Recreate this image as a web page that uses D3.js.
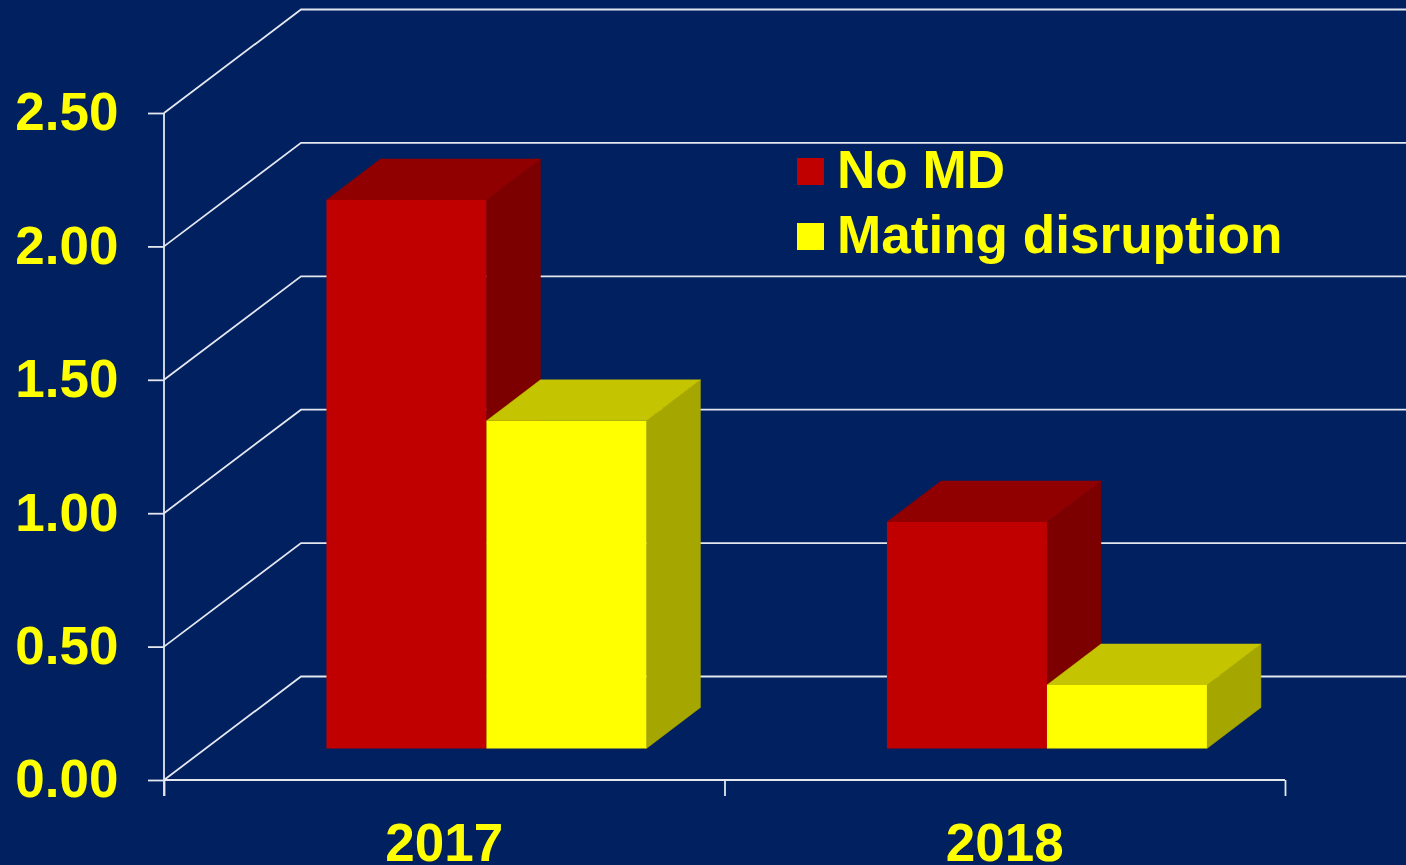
<!DOCTYPE html>
<html><head><meta charset="utf-8">
<script src="https://cdnjs.cloudflare.com/ajax/libs/d3/7.8.5/d3.min.js"></script>
<style>html,body{margin:0;padding:0;background:#002060;overflow:hidden}svg{display:block}</style>
</head><body><svg id="c" width="1406" height="865"></svg>
<script>
const categories = ["2017", "2018"];
const seriesNames = ["No MD", "Mating disruption"];
const noMD = [2.056, 0.849];
const matingDisruption = [1.228, 0.238];
const yTicks = [0, 0.5, 1, 1.5, 2, 2.5];
const seriesValues = [noMD, matingDisruption];
const frontColors = ["#c00000", "#ffff00"];
const topColors = ["#900000", "#c4c400"];
const sideColors = ["#7c0000", "#a6a600"];

const W = 1406, H = 865;
const svg = d3.select("#c");
svg.append("rect").attr("width", W).attr("height", H).attr("fill", "#002060");

const font = "'Liberation Sans', Arial, sans-serif", fs = 53, lineCol = "#e4e7ee", lw = 1.8;
const x = d3.scaleBand().domain(categories).range([164, 1285]).paddingInner(0).paddingOuter(0);
const y = d3.scaleLinear().domain([0, 2.5]).range([780, 113]);
const wallDX = 137, wallDY = -103.5;
const frontDX = 42.2, frontDY = -31.5;
const depthDX = 54, depthDY = -41;
const barW = 160;

const walls = svg.append("g").attr("fill", "none").attr("stroke", lineCol).attr("stroke-width", lw);
yTicks.forEach(t => {
  walls.append("path").attr("d", d3.line()([
    [x.range()[0], y(t)], [x.range()[0] + wallDX, y(t) + wallDY], [W, y(t) + wallDY]
  ]));
});

const yAxis = svg.append("g").attr("transform", `translate(${x.range()[0]},0)`)
  .call(d3.axisLeft(y).tickValues(yTicks).tickFormat(d3.format(".2f")).tickSize(16).tickPadding(29.5));
const xTickVals = [0, 1, 2].map(i => x.range()[0] + i * x.step());
const xScaleTicks = d3.scaleLinear().domain([164, 1285]).range([164, 1285]);
const xAxis = svg.append("g").attr("transform", `translate(0,${y(0)})`)
  .call(d3.axisBottom(xScaleTicks).tickValues(xTickVals).tickFormat("").tickSize(16).tickSizeOuter(0));
[yAxis, xAxis].forEach(a => {
  a.selectAll("path.domain").remove();
  a.selectAll("line").attr("stroke", lineCol).attr("stroke-width", lw);
});
svg.append("path").attr("d", d3.line()([[x.range()[0], y(2.5)], [x.range()[0], y(0) + 16]]))
  .attr("stroke", lineCol).attr("stroke-width", lw).attr("fill", "none");
svg.append("path").attr("d", d3.line()([[x.range()[0], y(0)], [x.range()[1], y(0)]]))
  .attr("stroke", lineCol).attr("stroke-width", lw).attr("fill", "none");
yAxis.selectAll("text").attr("fill", "#ffff00").attr("font-family", font).attr("font-weight", "bold")
  .attr("font-size", fs).attr("dy", "0.32em").attr("text-anchor", "end");

svg.append("g").selectAll("text").data(categories).join("text")
  .attr("x", d => x(d) + x.bandwidth() / 2).attr("y", 860.5)
  .attr("text-anchor", "middle").attr("fill", "#ffff00")
  .attr("font-family", font).attr("font-weight", "bold").attr("font-size", fs).text(d => d);

const base = y(0) + frontDY;
const scaleY = v => y(v) + frontDY;
categories.forEach((c, ci) => {
  const cx = x(c) + x.bandwidth() / 2 + frontDX;
  seriesValues.forEach((vals, si) => {
    const x0 = cx - barW + si * barW, x1 = x0 + barW, t = scaleY(vals[ci]);
    const g = svg.append("g");
    g.append("path").attr("fill", sideColors[si]).attr("stroke", sideColors[si]).attr("stroke-width", 0.5)
      .attr("d", d3.line()([[x1, t], [x1 + depthDX, t + depthDY], [x1 + depthDX, base + depthDY], [x1, base]]) + "Z");
    g.append("path").attr("fill", topColors[si]).attr("stroke", topColors[si]).attr("stroke-width", 0.5)
      .attr("d", d3.line()([[x0, t], [x0 + depthDX, t + depthDY], [x1 + depthDX, t + depthDY], [x1, t]]) + "Z");
    g.append("rect").attr("x", x0).attr("y", t).attr("width", barW).attr("height", base - t).attr("fill", frontColors[si]);
  });
});

const legend = svg.append("g").selectAll("g").data(seriesNames).join("g")
  .attr("transform", (d, i) => `translate(797,${158 + i * 65})`);
legend.append("rect").attr("width", 27).attr("height", 27).attr("fill", (d, i) => frontColors[i]);
legend.append("text").attr("x", 40).attr("y", 30).attr("fill", "#ffff00")
  .attr("font-family", font).attr("font-weight", "bold").attr("font-size", 53.1).text(d => d);
</script></body></html>
